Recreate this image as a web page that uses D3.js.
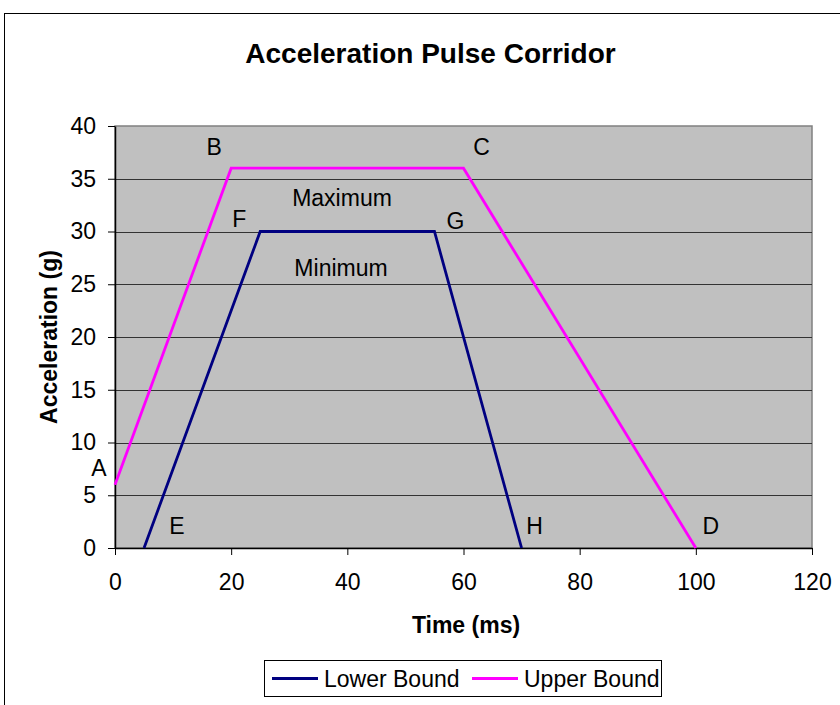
<!DOCTYPE html>
<html>
<head>
<meta charset="utf-8">
<script src="https://cdn.jsdelivr.net/npm/d3@7"></script>
<style>
  body { margin: 0; background: #fff; }
  svg { display: block; font-family: "Liberation Sans", Arial, sans-serif; }
</style>
</head>
<body>
<div id="chart"></div>
<script>
// series data (time ms, acceleration g)
const upperTime = [0, 20, 60, 100];
const upperAccel = [6, 36, 36, 0];
const upperNames = ["A", "B", "C", "D"];
const lowerTime = [5, 25, 55, 70];
const lowerAccel = [0, 30, 30, 0];
const lowerNames = ["E", "F", "G", "H"];
const xTicks = [0, 20, 40, 60, 80, 100, 120];
const yTicks = [0, 5, 10, 15, 20, 25, 30, 35, 40];

const width = 840, height = 705;
const margin = { top: 126, right: 28, bottom: 157, left: 115 };
const plotW = width - margin.left - margin.right;
const plotH = height - margin.top - margin.bottom;
const fontSize = "23px";

const svg = d3.select("#chart").append("svg")
  .attr("width", width)
  .attr("height", height);

// outer chart border
svg.append("rect")
  .attr("x", 4.5).attr("y", 13.5)
  .attr("width", 850).attr("height", 720)
  .attr("fill", "none").attr("stroke", "#000").attr("stroke-width", 1);

const x = d3.scaleLinear().domain([0, 120]).range([margin.left, margin.left + plotW]);
const y = d3.scaleLinear().domain([0, 40]).range([margin.top + plotH, margin.top]);

// plot background
svg.append("rect")
  .attr("x", x(0)).attr("y", y(40))
  .attr("width", x(120) - x(0)).attr("height", y(0) - y(40))
  .attr("fill", "#c0c0c0")
  .attr("stroke", "#808080").attr("stroke-width", 1.5);

// gridlines
svg.append("g")
  .selectAll("line")
  .data(yTicks.filter(d => d > 0 && d < 40))
  .join("line")
  .attr("x1", x(0)).attr("x2", x(120))
  .attr("y1", d => Math.round(y(d)) + 0.5).attr("y2", d => Math.round(y(d)) + 0.5)
  .attr("stroke", "#333").attr("stroke-width", 1);

// axes
const xAxis = svg.append("g")
  .attr("transform", `translate(0,${y(0)})`)
  .call(d3.axisBottom(x).tickValues(xTicks).tickSize(7).tickPadding(19).tickSizeOuter(0));
const yAxis = svg.append("g")
  .attr("transform", `translate(${x(0)},0)`)
  .call(d3.axisLeft(y).tickValues(yTicks).tickSize(7).tickPadding(12).tickSizeOuter(0));

[xAxis, yAxis].forEach(a => {
  a.select(".domain").attr("stroke", "#000").attr("stroke-width", 1.5);
  a.selectAll(".tick line").attr("stroke", "#000");
  a.selectAll("text")
    .attr("fill", "#000")
    .style("font-size", fontSize)
    .style("font-family", "'Liberation Sans', Arial, sans-serif");
});

// lines
const line = d3.line().x(d => x(d.t)).y(d => y(d.a));
const upper = upperTime.map((t, i) => ({ t, a: upperAccel[i], name: upperNames[i] }));
const lower = lowerTime.map((t, i) => ({ t, a: lowerAccel[i], name: lowerNames[i] }));

svg.append("path").datum(lower)
  .attr("d", line).attr("fill", "none")
  .attr("stroke", "#000080").attr("stroke-width", 2.8);
svg.append("path").datum(upper)
  .attr("d", line).attr("fill", "none")
  .attr("stroke", "#ff00ff").attr("stroke-width", 2.8);

// point labels: offsets in px from the data point
const upperOffsets = [[-16, -17], [-17, -21], [18, -21], [15, -22]];
const lowerOffsets = [[33, -22], [-21, -13], [21, -11], [13, -22]];
const labelData = upper.map((d, i) => ({ ...d, off: upperOffsets[i] }))
  .concat(lower.map((d, i) => ({ ...d, off: lowerOffsets[i] })));

svg.append("g")
  .selectAll("text")
  .data(labelData)
  .join("text")
  .attr("x", d => x(d.t) + d.off[0])
  .attr("y", d => y(d.a) + d.off[1])
  .attr("text-anchor", "middle")
  .attr("dominant-baseline", "central")
  .style("font-size", fontSize)
  .text(d => d.name);

// region labels
svg.append("text")
  .attr("x", 342).attr("y", 197.5)
  .attr("text-anchor", "middle").attr("dominant-baseline", "central")
  .style("font-size", fontSize).text("Maximum");
svg.append("text")
  .attr("x", 341).attr("y", 268)
  .attr("text-anchor", "middle").attr("dominant-baseline", "central")
  .style("font-size", fontSize).text("Minimum");

// title
svg.append("text")
  .attr("x", 430.5).attr("y", 63)
  .attr("text-anchor", "middle")
  .style("font-size", "28px").style("font-weight", "bold")
  .text("Acceleration Pulse Corridor");

// axis titles
svg.append("text")
  .attr("x", 466).attr("y", 633)
  .attr("text-anchor", "middle")
  .style("font-size", fontSize).style("font-weight", "bold")
  .text("Time (ms)");
svg.append("text")
  .attr("transform", `translate(57,${y(20)}) rotate(-90)`)
  .attr("text-anchor", "middle")
  .style("font-size", fontSize).style("font-weight", "bold")
  .text("Acceleration (g)");

// legend
const legend = svg.append("g");
legend.append("rect")
  .attr("x", 264.5).attr("y", 660.5)
  .attr("width", 397).attr("height", 36)
  .attr("fill", "#fff").attr("stroke", "#000");
const legendItems = [
  { label: "Lower Bound", color: "#000080", x0: 272 },
  { label: "Upper Bound", color: "#ff00ff", x0: 472 }
];
legendItems.forEach(item => {
  legend.append("line")
    .attr("x1", item.x0).attr("x2", item.x0 + 46)
    .attr("y1", 678.5).attr("y2", 678.5)
    .attr("stroke", item.color).attr("stroke-width", 2.8);
  legend.append("text")
    .attr("x", item.x0 + 52).attr("y", 678.5)
    .attr("dominant-baseline", "central")
    .style("font-size", fontSize)
    .text(item.label);
});
</script>
</body>
</html>
